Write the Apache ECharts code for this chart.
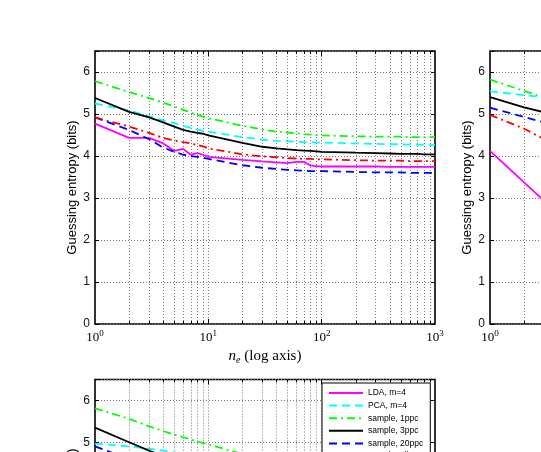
<!DOCTYPE html>
<html><head><meta charset="utf-8">
<script src="https://cdn.jsdelivr.net/npm/echarts@6/dist/echarts.min.js"></script>
<style>html,body{margin:0;padding:0;background:#fff}#c{width:541px;height:452px}</style>
</head><body><div id="c"></div>
<script>
// ---------------- data ----------------
const seriesNames = ['LDA, m=4','PCA, m=4','sample, 1ppc','sample, 3ppc','sample, 20ppc','sample, allppc'];

// top-left panel
const nTopLeft = [1,2,3,4,5,6,7,8,9,10,20,30,40,50,60,70,80,90,100,200,300,400,500,600,700,800,900,1000];
const tlLDA   = [4.77,4.43,4.43,4.30,4.12,4.17,4.03,4.07,4.03,3.98,3.91,3.87,3.85,3.83,3.86,3.86,3.77,3.76,3.75,3.75,3.75,3.74,3.74,3.74,3.74,3.74,3.74,3.74];
const tlPCA   = [5.25,5.08,4.95,4.85,4.78,4.72,4.67,4.63,4.60,4.58,4.45,4.39,4.36,4.35,4.34,4.33,4.33,4.32,4.32,4.30,4.29,4.28,4.28,4.27,4.27,4.27,4.26,4.26];
const tl1ppc  = [5.78,5.52,5.38,5.27,5.18,5.10,5.03,4.98,4.94,4.90,4.72,4.63,4.58,4.56,4.54,4.52,4.51,4.50,4.49,4.47,4.46,4.46,4.46,4.45,4.45,4.45,4.45,4.45];
const tl3ppc  = [5.38,5.05,4.92,4.80,4.70,4.62,4.58,4.55,4.53,4.49,4.31,4.22,4.18,4.16,4.14,4.13,4.12,4.11,4.10,4.08,4.07,4.06,4.05,4.05,4.05,4.04,4.04,4.04];
const tl20ppc = [4.92,4.62,4.40,4.20,4.10,4.03,4.00,3.98,3.96,3.93,3.78,3.72,3.69,3.67,3.66,3.65,3.64,3.64,3.64,3.62,3.61,3.61,3.61,3.60,3.60,3.60,3.60,3.60];
const tlAll   = [4.92,4.70,4.55,4.43,4.37,4.33,4.30,4.26,4.23,4.18,4.04,3.99,3.97,3.95,3.94,3.93,3.93,3.92,3.92,3.90,3.89,3.89,3.89,3.88,3.88,3.88,3.88,3.88];

// top-right panel (only its left edge is visible)
const nTopRight = [1,2,3];
const trLDA   = [4.12,3.37,2.93];
const trPCA   = [5.54,5.45,5.39];
const tr1ppc  = [5.82,5.55,5.39];
const tr3ppc  = [5.40,5.16,5.04];
const tr20ppc = [5.15,4.93,4.80];
const trAll   = [4.98,4.65,4.40];

// bottom-left panel (only its top is visible)
const nBottom = [1,2,3,4,5,6,7,8,9,10,20,30];
const blLDA   = [4.60,4.35,4.20,4.10,4.03,3.98,3.94,3.91,3.88,3.86,3.75,3.70];
const blPCA   = [4.97,4.90,4.85,4.80,4.76,4.72,4.69,4.66,4.64,4.62,4.50,4.44];
const bl1ppc  = [5.81,5.56,5.38,5.27,5.18,5.12,5.07,5.02,4.98,4.95,4.72,4.63];
const bl3ppc  = [5.35,5.00,4.80,4.66,4.56,4.48,4.42,4.38,4.34,4.30,4.10,4.02];
const bl20ppc = [4.90,4.60,4.40,4.25,4.15,4.08,4.02,3.98,3.95,3.92,3.76,3.70];
const blAll   = [4.70,4.50,4.38,4.28,4.21,4.16,4.12,4.09,4.06,4.04,3.92,3.87];

const yTicks = [0,1,2,3,4,5,6];
const xGridValues = [2,3,4,5,6,7,8,9,10,20,30,40,50,60,70,80,90,100,200,300,400,500,600,700,800,900];
const xMajorTicks = [10,100];

// ---------------- styles ----------------
const lineStyles = [
  {color:'#ff00ff', type:'solid'},
  {color:'#00ffff', type:[8,5]},
  {color:'#00ff00', type:[8,4,2,4]},
  {color:'#000000', type:'solid'},
  {color:'#0000ff', type:[8,5]},
  {color:'#ff0000', type:[8,4,2,4]}
];
const sans = 'Liberation Sans, Arial, sans-serif';
const serif = 'Liberation Serif, Times New Roman, serif';

const panels = [
  {grid:{left:95, top:51, width:340, height:273}, x:nTopLeft, ys:[tlLDA,tlPCA,tl1ppc,tl3ppc,tl20ppc,tlAll]},
  {grid:{left:490, top:51, width:340, height:273}, x:nTopRight, ys:[trLDA,trPCA,tr1ppc,tr3ppc,tr20ppc,trAll]},
  {grid:{left:95, top:379.5, width:340, height:272}, x:nBottom, ys:[blLDA,blPCA,bl1ppc,bl3ppc,bl20ppc,blAll]}
];

const grid = [], xAxis = [], yAxis = [], series = [];
const YMAX = 6.5;

panels.forEach((p, i) => {
  grid.push(Object.assign({show:true, borderColor:'#000', borderWidth:1.6, backgroundColor:'#fff',
    containLabel:false, outerBoundsMode:'none'}, p.grid));
  xAxis.push({
    gridIndex:i, type:'log', logBase:10, min:1, max:1000,
    axisLine:{show:false}, axisTick:{show:false}, splitLine:{show:false},
    axisLabel:{
      margin:5, color:'#000',
      formatter: v => '{b|10}{s|' + Math.round(Math.log10(v)) + '}',
      rich:{
        b:{fontSize:13, fontFamily:serif, color:'#000'},
        s:{fontSize:9, fontFamily:serif, color:'#000', padding:[0,0,9,0]}
      }
    },
    name:'{i|n}{e|e}{t| (log axis)}', nameLocation:'middle', nameGap:24, nameMoveOverlap:false,
    nameTextStyle:{
      rich:{
        i:{fontSize:15, fontFamily:serif, fontStyle:'italic', color:'#000'},
        e:{fontSize:10, fontFamily:serif, fontStyle:'italic', color:'#000', padding:[7,0,0,0]},
        t:{fontSize:15, fontFamily:serif, color:'#000'}
      }
    }
  });
  yAxis.push({
    gridIndex:i, type:'value', min:0, max:YMAX, interval:1,
    axisLine:{show:false},
    axisTick:{show:true, inside:true, length:4, lineStyle:{color:'#000', width:1}},
    axisLabel:{margin:5, fontSize:12, fontFamily:sans, color:'#111',
      formatter: v => yTicks.includes(v) ? String(v) : ''},
    splitLine:{show:true, lineStyle:{type:[1,2], color:'#777', width:1}},
    name:'Guessing entropy (bits)', nameLocation:'middle', nameGap:16, nameMoveOverlap:false,
    nameTextStyle:{fontSize:13, fontFamily:sans, color:'#000'}
  });
  yAxis.push({
    gridIndex:i, type:'value', min:0, max:YMAX, interval:1, position:'right',
    axisLine:{show:false}, axisLabel:{show:false}, splitLine:{show:false},
    axisTick:{show:true, inside:true, length:4, lineStyle:{color:'#000', width:1}}
  });

  const mlData = [];
  xGridValues.forEach(v => mlData.push({xAxis:v, lineStyle:{type:[1,2], color:'#777', width:1}}));
  xGridValues.forEach(v => {
    const L = xMajorTicks.includes(v) ? 0.12 : 0.07;
    mlData.push([{coord:[v,0], lineStyle:{type:'solid', color:'#000', width:1}}, {coord:[v,L]}]);
    mlData.push([{coord:[v,YMAX], lineStyle:{type:'solid', color:'#000', width:1}}, {coord:[v,YMAX-L]}]);
  });

  seriesNames.forEach((name, k) => {
    const s = {
      type:'line', name, xAxisIndex:i, yAxisIndex:2*i,
      data: p.x.map((x, j) => [x, p.ys[k][j]]),
      symbol:'none', showSymbol:false, clip:true, z:3+k,
      lineStyle:{color:lineStyles[k].color, type:lineStyles[k].type, width:1.8},
      itemStyle:{color:lineStyles[k].color},
      emphasis:{disabled:true}
    };
    if (k === 0) {
      s.markLine = {silent:true, symbol:['none','none'], label:{show:false}, z:1,
        animation:false, emphasis:{disabled:true}, data:mlData};
    }
    series.push(s);
  });
});

const chart = echarts.init(document.getElementById('c'), null, {renderer:'canvas'});
chart.setOption({
  animation:false,
  backgroundColor:'#fff',
  grid, xAxis, yAxis, series,
  legend:{
    data:seriesNames, orient:'vertical', left:322, top:383, height:100,
    itemWidth:34, itemHeight:8, itemGap:3.6,
    padding:[5.5,7,3,6], borderColor:'#000', borderWidth:1, backgroundColor:'#fff',
    itemStyle:{opacity:0},
    textStyle:{fontSize:8.5, lineHeight:8.5, fontFamily:sans, color:'#000'}, z:20,
    selectedMode:false
  }
});
</script></body></html>
